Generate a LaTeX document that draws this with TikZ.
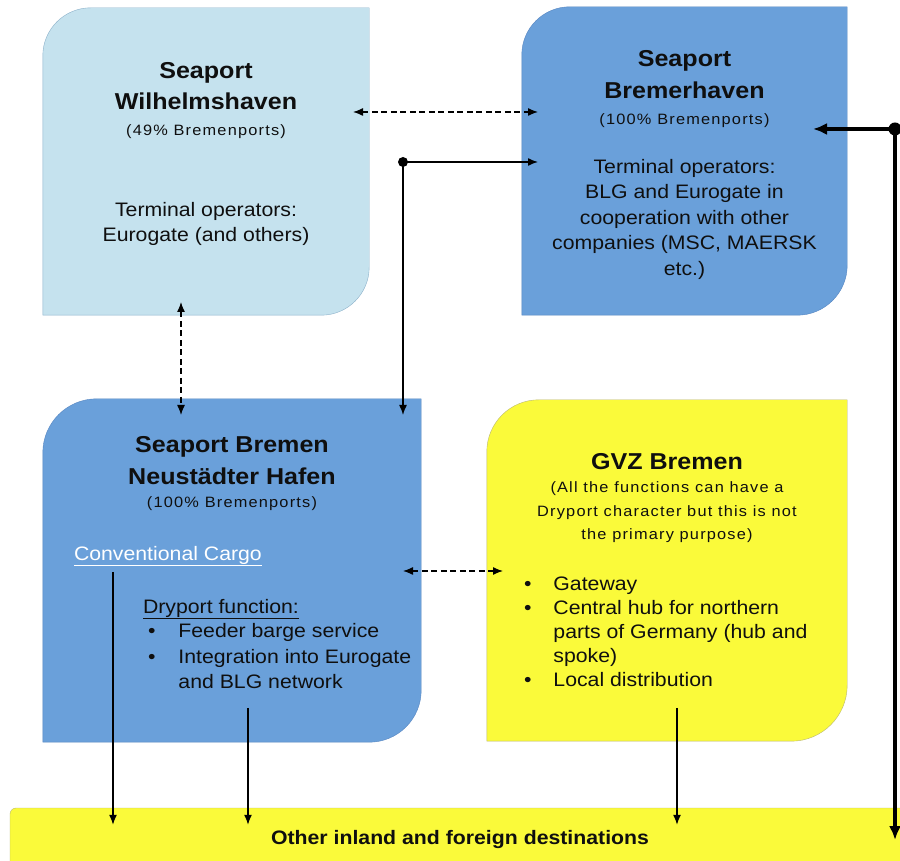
\documentclass[tikz,border=0pt]{standalone}
\usepackage{fontspec}
\setmainfont[FakeStretch=1.09]{Liberation Sans}
\newfontfamily\spacedfont[FakeStretch=1.09,LetterSpace=8]{Liberation Sans}
\usepackage{xcolor}
\usetikzlibrary{calc}
\usetikzlibrary{positioning}
\usetikzlibrary{arrows.meta}

\definecolor{paleblue}{RGB}{197,226,238}
\definecolor{paleblueline}{RGB}{139,176,201}
\definecolor{portblue}{RGB}{106,160,218}
\definecolor{portblueline}{RGB}{84,132,192}
\definecolor{gvzyellow}{RGB}{250,250,58}
\definecolor{gvzline}{RGB}{185,182,112}
\definecolor{inktext}{RGB}{15,15,15}

\tikzset{
    title/.style={font=\fontsize{23}{31.5}\selectfont\bfseries, align=center, inner sep=0pt, text=inktext},
    share/.style={font=\spacedfont\fontsize{15}{23.5}\selectfont, align=center, inner sep=0pt, text=inktext},
    body/.style={font=\fontsize{19.5}{25.5}\selectfont, align=center, inner sep=0pt, text=inktext},
    area/.style={minimum width=#1, inner sep=0pt},
    dot/.style={circle, fill=black, inner sep=0pt, minimum size=10pt},
    bigdot/.style={circle, fill=black, inner sep=0pt, minimum size=13pt},
    link/.style={line width=1.4pt},
    dashlink/.style={line width=1.3pt, dash pattern=on 6pt off 3.5pt},
    mainline/.style={line width=3.5pt, -{Latex[length=14pt,width=12pt]}}
}

\begin{document}
\begin{tikzpicture}[x=1pt, y=1pt, >={Latex[length=10pt,width=8pt]}]
    \useasboundingbox (0,0) rectangle (900,860);

    % port areas
    \node [area=326pt, minimum height=307pt] (wil) at (206,698.5) {};
    \node [area=325pt, minimum height=308pt] (bhv) at (684.5,699) {};
    \node [area=378pt, minimum height=343pt] (brm) at (232,289.5) {};
    \node [area=360pt, minimum height=341pt] (gvz) at (667,289.5) {};

    \draw [fill=paleblue, draw=paleblueline] (wil.south west) -- ([yshift=-48pt]wil.north west) arc [start angle=180, end angle=90, radius=48pt] -- (wil.north east) -- ([yshift=48pt]wil.south east) arc [start angle=0, end angle=-90, radius=48pt] -- cycle;
    \draw [fill=portblue, draw=portblueline] (bhv.south west) -- ([yshift=-48pt]bhv.north west) arc [start angle=180, end angle=90, radius=48pt] -- (bhv.north east) -- ([yshift=50pt]bhv.south east) arc [start angle=0, end angle=-90, radius=50pt] -- cycle;
    \draw [fill=portblue, draw=portblueline] (brm.south west) -- ([yshift=-54pt]brm.north west) arc [start angle=180, end angle=90, radius=54pt] -- (brm.north east) -- ([yshift=52pt]brm.south east) arc [start angle=0, end angle=-90, radius=52pt] -- cycle;
    \draw [fill=gvzyellow, draw=gvzline] (gvz.south west) -- ([yshift=-52pt]gvz.north west) arc [start angle=180, end angle=90, radius=52pt] -- (gvz.north east) -- ([yshift=56pt]gvz.south east) arc [start angle=0, end angle=-90, radius=56pt] -- cycle;

    \node [minimum width=900pt, minimum height=64pt, rounded corners=6pt, fill=gvzyellow, draw=gvzline, text=inktext, font=\fontsize{19.5}{24}\selectfont\bfseries] (dest) at (460,20) {Other inland and foreign destinations};

    % Wilhelmshaven
    \node [title, below=54pt of wil.north] (wilname) {Seaport\\Wilhelmshaven};
    \node [share, below=117pt of wil.north] (wilshare) {(49\% Bremenports)};
    \node [body, below=194pt of wil.north] (wilops) {Terminal operators:\\Eurogate (and others)};

    % Bremerhaven
    \node [title, below=43.5pt of bhv.north] (bhvname) {Seaport\\Bremerhaven};
    \node [share, below=107pt of bhv.north] (bhvshare) {(100\% Bremenports)};
    \node [body, below=152pt of bhv.north] (bhvops) {Terminal operators:\\BLG and Eurogate in\\cooperation with other\\companies (MSC, MAERSK\\etc.)};

    % Bremen
    \node [title, below=37.5pt of brm.north] (brmname) {Seaport Bremen\\Neustädter Hafen};
    \node [share, below=98pt of brm.north] (brmshare) {(100\% Bremenports)};
    \node [body, anchor=north west, text=white] (conv) at ([xshift=31pt, yshift=-147pt]brm.north west) {\underline{Conventional Cargo}};
    \node [body, anchor=north west] (brmdry) at ([xshift=100pt, yshift=-200pt]brm.north west) {\underline{Dryport function:}};
    \node [body, anchor=north west, align=left] (brmlist) at ([xshift=105pt, yshift=-221pt]brm.north west) {%
        \begin{tabular}{@{}l@{\hspace{23pt}}l@{}}
        • & Feeder barge service\\
        • & Integration into Eurogate\\
          & and BLG network
        \end{tabular}};

    % GVZ
    \node [title, below=53pt of gvz.north] (gvzname) {GVZ Bremen};
    \node [share, below=82pt of gvz.north] (gvznote) {(All the functions can have a\\Dryport character but this is not\\the primary purpose)};
    \node [body, anchor=north west, align=left, font=\fontsize{19.5}{24}\selectfont] (gvzlist) at ([xshift=37pt, yshift=-174pt]gvz.north west) {%
        \begin{tabular}{@{}l@{\hspace{22pt}}l@{}}
        • & Gateway\\
        • & Central hub for northern\\
          & parts of Germany (hub and\\
          & spoke)\\
        • & Local distribution
        \end{tabular}};

    % connector ends
    \coordinate (wilside) at (353,748);
    \coordinate (bhvside) at (538,748);
    \coordinate (bhvin) at (538,698);
    \coordinate (brmin) at (403,445);
    \coordinate (wilfoot) at (181,558);
    \coordinate (brmhead) at (181,445);
    \coordinate (brmside) at (403,289);
    \coordinate (gvzside) at (503,289);
    \coordinate (bhvfeed) at (813,731);
    \coordinate (destfeed) at (895,20);
    \coordinate (convout) at (113,288);
    \coordinate (brmout) at (248,152);
    \coordinate (gvzout) at (677,152);

    \node [dot] (junction) at (403,698) {};
    \node [bigdot] (feed) at (895,731) {};

    \draw [dashlink, <->] (wilside) -- (bhvside);
    \draw [dashlink, <->] (wilfoot) -- (brmhead);
    \draw [dashlink, <->] (brmside) -- (gvzside);
    \draw [link, ->] (junction.center) -- (bhvin);
    \draw [link, ->] (junction.center) -- (brmin);
    \draw [mainline] (feed.center) -- (bhvfeed);
    \draw [mainline] (feed.center) -- (destfeed);
    \draw [link, ->] (convout) -- ([yshift=-17pt]convout |- dest.north);
    \draw [link, ->] (brmout) -- ([yshift=-17pt]brmout |- dest.north);
    \draw [link, ->] (gvzout) -- ([yshift=-17pt]gvzout |- dest.north);
\end{tikzpicture}
\end{document}
